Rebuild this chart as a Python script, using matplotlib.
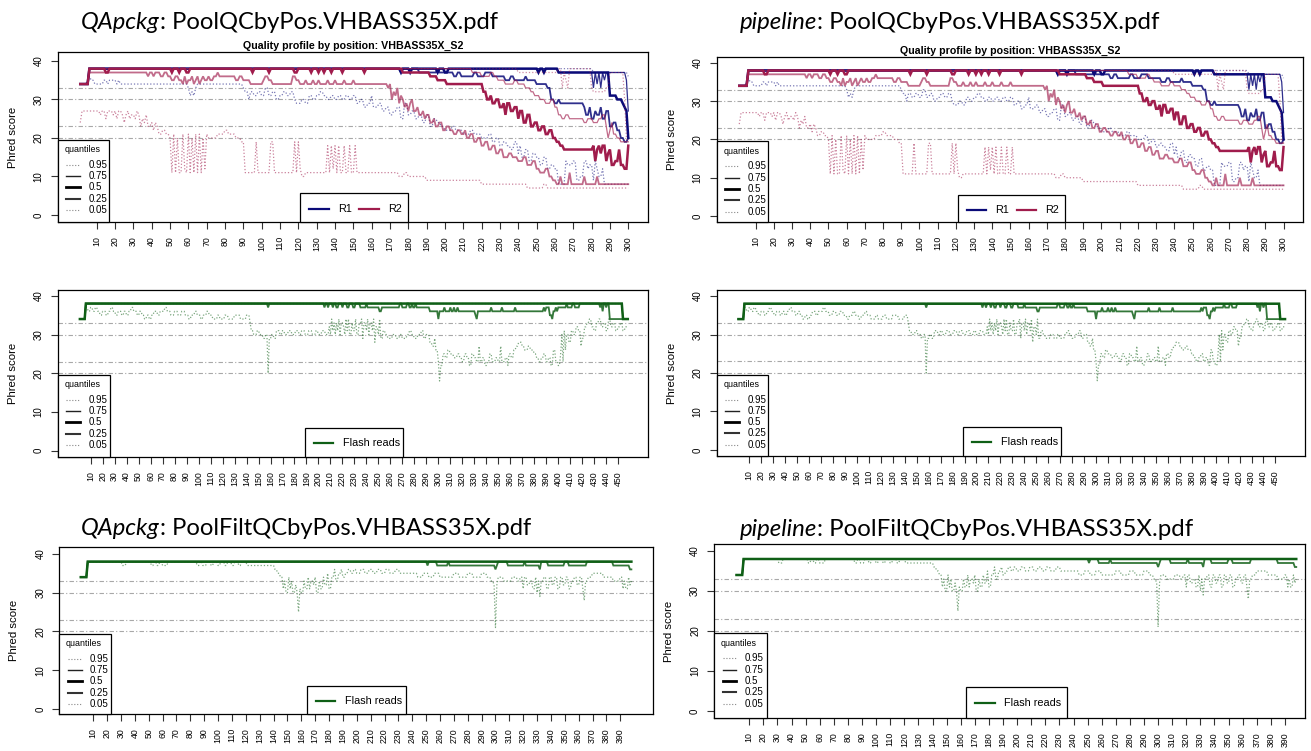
import numpy as np
import matplotlib
matplotlib.use("Agg")
import matplotlib.pyplot as plt
from matplotlib.patches import Rectangle
from matplotlib.lines import Line2D
from matplotlib.transforms import IdentityTransform

W, H = 1311, 751
HEAD_FONT = ["Lato", "DejaVu Sans"]
PLOT_FONT = ["Liberation Sans", "DejaVu Sans"]
plt.rcParams["font.family"] = PLOT_FONT

# ---------------------------------------------------------------- data
QUANTILE_LABELS = ["0.95", "0.75", "0.5", "0.25", "0.05"]
REF_SCORES = [20, 23, 30, 33]
READ_LABELS = ["R1", "R2"]
FLASH_LABEL = "Flash reads"
PANEL_TITLE = "Quality profile by position: VHBASS35X_S2"
Y_TICKS = [0, 10, 20, 30, 40]

N_PAIRED = 300
N_FLASH = 458
N_FILT = 398
TICKS_PAIRED = list(range(10, 301, 10))
TICKS_FLASH = list(range(10, 451, 10))
TICKS_FILT = list(range(10, 391, 10))

# Each series: (start position, Phred score) -- the score holds until the next start.
R1_Q95 = [(1, 34), (6, 38), (281, 37), (300, 36)]
R1_Q75 = [(1, 34), (6, 38), (262, 37), (281, 33), (282, 37), (283, 34), (284, 37),
          (285, 33), (286, 37), (287, 35), (288, 37), (299, 35), (300, 27)]
R1_Q50 = [(1, 34), (6, 38), (176, 37), (177, 38), (181, 37), (182, 38), (196, 37),
          (197, 38), (200, 37), (202, 38), (251, 37), (252, 38), (254, 37), (255, 38),
          (262, 37), (290, 31), (294, 30), (297, 29), (298, 28), (299, 27), (300, 20)]
R1_Q25 = [(1, 34), (6, 38), (176, 37), (177, 38), (181, 37), (182, 38), (186, 37),
          (196, 38), (197, 37), (205, 36), (207, 37), (209, 36), (216, 37), (218, 36),
          (222, 37), (226, 36), (233, 35), (236, 36), (238, 35), (244, 36), (245, 35),
          (250, 34), (256, 33), (258, 30), (260, 29), (262, 30), (263, 29), (276, 28),
          (277, 26), (279, 28), (280, 25), (282, 27), (283, 26), (285, 28), (286, 25),
          (288, 27), (290, 23), (292, 24), (294, 22), (296, 20), (298, 19), (300, 20)]
R1_Q05 = [(1, 34), (5, 35), (6, 36), (7, 35), (9, 34), (14, 35), (16, 34), (17, 35),
          (21, 34), (22, 35), (23, 34), (60, 33), (61, 31), (62, 32), (63, 31), (64, 33),
          (65, 34), (90, 33), (91, 32), (93, 30), (94, 32), (96, 31), (98, 32), (100, 31),
          (102, 33), (104, 31), (106, 32), (108, 30), (110, 31), (112, 32), (114, 31),
          (116, 32), (118, 30), (119, 29), (122, 30), (124, 29), (126, 31), (128, 30),
          (130, 31), (132, 32), (134, 31), (136, 30), (138, 31), (140, 30), (142, 31),
          (144, 30), (146, 31), (148, 30), (150, 31), (152, 29), (154, 30), (156, 28),
          (158, 29), (160, 31), (161, 28), (164, 29), (166, 27), (168, 28), (170, 26),
          (172, 27), (174, 28), (176, 25), (178, 29), (180, 26), (182, 27), (184, 25),
          (186, 26), (188, 24), (190, 26), (192, 23), (194, 25), (196, 24), (198, 23),
          (200, 22), (204, 23), (206, 22), (210, 21), (214, 22), (216, 21), (220, 20),
          (224, 21), (226, 19), (228, 20), (230, 18), (232, 19), (234, 18), (236, 17),
          (238, 19), (240, 16), (241, 18), (242, 15), (244, 17), (246, 14), (248, 16),
          (250, 15), (252, 13), (254, 15), (256, 12), (258, 13), (260, 12), (262, 8),
          (266, 14), (267, 13), (270, 14), (272, 9), (274, 10), (276, 14), (278, 12),
          (279, 13), (281, 9), (282, 14), (283, 12), (284, 10), (286, 12), (287, 8)]

R2_Q95 = [(1, 34), (6, 38), (240, 37), (262, 38), (264, 33), (265, 37), (266, 35),
          (267, 33), (268, 38), (280, 33), (281, 32), (288, 33), (290, 37), (298, 30),
          (299, 20), (300, 19)]
R2_Q75 = [(1, 34), (6, 38), (215, 37), (220, 36), (225, 37), (227, 36), (229, 35),
          (233, 34), (238, 35), (240, 34), (244, 33), (247, 32), (249, 31), (252, 30),
          (255, 29), (258, 30), (260, 28), (262, 26), (264, 25), (266, 26), (268, 25),
          (276, 24), (278, 25), (281, 24), (284, 25), (286, 26), (288, 23), (289, 20),
          (290, 22), (291, 24), (292, 21), (294, 20), (296, 19)]
R2_Q50 = [(1, 34), (6, 38), (15, 37), (17, 38), (51, 37), (52, 38), (55, 37), (56, 38),
          (59, 37), (61, 38), (95, 37), (96, 38), (104, 37), (105, 38), (118, 37),
          (120, 38), (127, 37), (128, 38), (131, 37), (132, 38), (134, 37), (135, 38),
          (138, 37), (139, 38), (144, 37), (145, 38), (156, 37), (157, 38), (177, 37),
          (192, 36), (196, 35), (201, 34), (221, 32), (223, 30), (225, 31), (226, 29),
          (228, 30), (230, 28), (232, 29), (233, 26), (234, 29), (236, 27), (238, 28),
          (240, 25), (241, 27), (243, 24), (245, 26), (247, 23), (249, 24), (251, 22),
          (253, 23), (255, 21), (257, 22), (259, 20), (261, 19), (263, 18), (265, 17),
          (281, 18), (282, 14), (283, 17), (284, 18), (285, 16), (286, 18), (288, 14),
          (289, 16), (290, 17), (291, 13), (293, 14), (295, 17), (296, 13), (298, 12),
          (300, 18)]
R2_Q25 = [(1, 34), (6, 37), (38, 36), (39, 37), (41, 36), (42, 37), (45, 36), (47, 37),
          (49, 36), (51, 35), (53, 36), (55, 35), (57, 34), (58, 36), (59, 34), (60, 35),
          (62, 36), (63, 34), (64, 35), (65, 36), (66, 34), (67, 35), (68, 36), (69, 35),
          (71, 36), (72, 35), (74, 36), (76, 37), (77, 36), (86, 35), (88, 36), (90, 35),
          (94, 34), (101, 35), (102, 36), (104, 35), (106, 34), (117, 36), (119, 35),
          (121, 34), (124, 35), (125, 34), (128, 35), (129, 34), (131, 35), (132, 34),
          (136, 35), (137, 34), (140, 35), (141, 34), (145, 35), (146, 34), (150, 35),
          (151, 34), (169, 33), (170, 34), (171, 30), (172, 32), (173, 31), (174, 33),
          (175, 29), (176, 31), (177, 30), (178, 28), (179, 29), (180, 27), (181, 29),
          (182, 30), (183, 27), (185, 28), (186, 26), (188, 27), (189, 25), (190, 26),
          (192, 24), (194, 25), (195, 23), (197, 24), (199, 22), (201, 23), (203, 22),
          (205, 21), (207, 22), (209, 21), (211, 22), (212, 20), (214, 21), (216, 19),
          (218, 20), (220, 18), (222, 19), (224, 17), (226, 18), (228, 16), (230, 17),
          (232, 15), (235, 16), (237, 15), (240, 14), (243, 15), (245, 13), (248, 14),
          (250, 12), (252, 11), (255, 12), (257, 10), (259, 9), (261, 8), (263, 10),
          (264, 8), (268, 11), (269, 8), (276, 10), (277, 8), (283, 10), (284, 8)]
R2_Q05 = [(1, 24), (2, 27), (12, 26), (13, 27), (15, 25), (16, 27), (19, 26), (20, 27),
          (21, 25), (22, 27), (24, 26), (25, 24), (26, 26), (27, 27), (28, 25), (29, 26),
          (31, 25), (32, 27), (33, 26), (34, 23), (35, 25), (36, 24), (37, 26), (38, 23),
          (40, 24), (41, 22), (42, 24), (43, 23), (44, 21), (46, 22), (48, 21), (50, 20),
          (51, 11), (52, 21), (53, 11), (54, 20), (55, 11), (57, 21), (58, 12), (59, 11),
          (60, 21), (61, 11), (62, 20), (63, 11), (64, 21), (65, 11), (66, 21), (67, 11),
          (68, 20), (69, 12), (70, 21), (71, 20), (76, 21), (80, 22), (82, 21), (86, 20),
          (89, 19), (91, 11), (97, 19), (98, 11), (105, 19), (107, 11), (118, 19),
          (119, 11), (120, 19), (121, 12), (122, 10), (124, 11), (136, 18), (137, 11),
          (138, 18), (139, 12), (140, 18), (141, 11), (142, 18), (143, 11), (145, 18),
          (146, 11), (148, 18), (149, 11), (151, 18), (152, 11), (175, 10), (178, 11),
          (180, 10), (190, 9), (220, 8), (245, 7), (254, 8), (256, 7)]

FLASH_Q95 = [(1, 34), (6, 38), (454, 34)]
FLASH_Q75 = [(1, 34), (6, 38), (454, 34)]
FLASH_Q50 = [(1, 34), (6, 38), (454, 34)]
FLASH_Q25 = [(1, 34), (6, 38), (158, 37), (159, 38), (205, 37), (206, 38), (208, 37),
             (209, 38), (212, 37), (213, 38), (215, 37), (217, 38), (220, 37), (221, 38),
             (224, 37), (226, 38), (229, 37), (231, 38), (235, 37), (240, 38), (241, 37),
             (251, 36), (253, 37), (268, 38), (270, 37), (274, 38), (276, 37), (278, 38),
             (279, 37), (281, 38), (282, 37), (293, 36), (300, 34), (301, 36), (305, 37),
             (306, 36), (310, 37), (311, 36), (313, 37), (314, 36), (316, 37), (317, 36),
             (331, 35), (332, 34), (333, 36), (344, 37), (345, 36), (353, 37), (354, 36),
             (364, 37), (365, 36), (388, 37), (389, 36), (390, 37), (393, 35), (395, 34),
             (396, 36), (398, 37), (399, 36), (400, 37), (407, 38), (408, 37), (412, 38),
             (414, 37), (418, 38), (435, 37), (436, 38), (437, 36), (438, 38), (440, 37),
             (441, 38), (443, 34)]
FLASH_Q05 = [(1, 34), (6, 37), (8, 36), (10, 37), (12, 36), (14, 37), (16, 36), (18, 35),
             (20, 36), (23, 35), (25, 36), (27, 37), (29, 36), (31, 35), (33, 36), (36, 35),
             (38, 36), (40, 35), (42, 36), (44, 37), (46, 36), (49, 35), (51, 36), (53, 35),
             (55, 34), (57, 35), (59, 34), (61, 35), (63, 36), (66, 35), (68, 36), (72, 37),
             (74, 36), (77, 35), (80, 36), (83, 35), (86, 36), (89, 35), (92, 34), (94, 35),
             (97, 36), (99, 35), (102, 34), (104, 35), (107, 36), (109, 35), (112, 34),
             (116, 35), (118, 34), (122, 35), (125, 34), (130, 35), (135, 34), (140, 35),
             (143, 33), (144, 31), (146, 30), (149, 31), (151, 30), (154, 29), (156, 30),
             (158, 20), (159, 29), (161, 30), (163, 29), (165, 31), (168, 30), (170, 31),
             (172, 30), (175, 31), (178, 30), (181, 31), (184, 30), (186, 31), (189, 30),
             (192, 31), (195, 30), (198, 31), (200, 30), (203, 31), (206, 30), (209, 32),
             (210, 30), (211, 34), (212, 31), (213, 33), (214, 30), (215, 33), (216, 31),
             (217, 34), (218, 30), (219, 33), (221, 32), (222, 30), (223, 34), (224, 31),
             (225, 34), (226, 30), (228, 33), (229, 31), (231, 34), (232, 30), (234, 33),
             (236, 34), (237, 29), (238, 33), (240, 31), (241, 34), (242, 30), (243, 33),
             (245, 31), (246, 34), (247, 28), (248, 32), (250, 30), (251, 34), (252, 29),
             (254, 31), (256, 30), (258, 29), (262, 30), (265, 29), (268, 30), (270, 29),
             (274, 30), (276, 31), (278, 30), (280, 29), (283, 30), (286, 31), (288, 29),
             (290, 30), (293, 28), (295, 27), (297, 29), (298, 26), (300, 23), (301, 18),
             (302, 22), (304, 25), (306, 24), (308, 26), (310, 25), (313, 24), (316, 25),
             (318, 24), (320, 23), (322, 25), (324, 24), (326, 22), (328, 25), (330, 24),
             (332, 23), (334, 27), (335, 23), (337, 24), (339, 22), (341, 23), (343, 25),
             (345, 23), (348, 24), (350, 23), (352, 27), (353, 23), (356, 24), (358, 22),
             (359, 25), (361, 24), (363, 26), (365, 27), (367, 28), (370, 27), (372, 26),
             (375, 27), (377, 26), (380, 25), (382, 24), (384, 23), (386, 24), (388, 25),
             (390, 23), (392, 24), (394, 22), (396, 26), (398, 23), (400, 22), (402, 25),
             (403, 30), (404, 23), (405, 31), (406, 26), (407, 30), (409, 28), (411, 31),
             (413, 30), (415, 32), (417, 31), (419, 27), (420, 29), (422, 32), (424, 33),
             (426, 34), (428, 32), (430, 31), (432, 33), (434, 34), (436, 32), (438, 33),
             (440, 31), (442, 34), (444, 32), (446, 33), (448, 31), (450, 32), (452, 33),
             (454, 31), (456, 32)]

FILT_Q95 = [(1, 34), (6, 38)]
FILT_Q75 = [(1, 34), (6, 38)]
FILT_Q50 = [(1, 34), (6, 38)]
FILT_Q25 = [(1, 34), (6, 38), (251, 37), (252, 38), (258, 37), (266, 38), (267, 37),
            (300, 36), (301, 37), (302, 38), (309, 37), (321, 38), (322, 37), (332, 36),
            (333, 38), (338, 37), (350, 38), (353, 37), (366, 38), (385, 37), (397, 36)]
FILT_Q05 = [(1, 34), (6, 38), (31, 37), (34, 38), (52, 37), (54, 38), (56, 37), (58, 38),
            (60, 37), (64, 38), (85, 37), (87, 38), (89, 37), (92, 38), (95, 37), (97, 38),
            (100, 37), (102, 38), (105, 37), (107, 38), (110, 37), (112, 38), (115, 37),
            (117, 38), (121, 37), (141, 36), (143, 35), (145, 34), (147, 31), (148, 33),
            (149, 30), (151, 34), (152, 31), (153, 33), (154, 30), (156, 32), (157, 30),
            (158, 25), (159, 31), (160, 30), (162, 33), (163, 31), (165, 34), (166, 31),
            (167, 33), (169, 32), (170, 34), (171, 30), (173, 33), (174, 31), (176, 34),
            (177, 32), (179, 35), (180, 31), (182, 34), (184, 36), (185, 33), (187, 35),
            (189, 36), (190, 34), (192, 35), (194, 36), (196, 35), (198, 36), (200, 35),
            (203, 36), (206, 35), (209, 36), (212, 35), (215, 36), (218, 35), (221, 36),
            (224, 35), (228, 36), (231, 35), (244, 34), (248, 35), (252, 34), (256, 35),
            (260, 34), (270, 35), (274, 34), (280, 35), (284, 34), (290, 35), (294, 34),
            (297, 33), (299, 32), (300, 21), (301, 32), (302, 34), (306, 33), (312, 34),
            (316, 33), (318, 34), (320, 31), (321, 34), (323, 32), (325, 33), (327, 31),
            (329, 34), (330, 30), (331, 33), (332, 29), (333, 33), (335, 34), (337, 31),
            (339, 34), (341, 32), (343, 34), (345, 31), (347, 34), (349, 32), (351, 34),
            (353, 31), (355, 33), (357, 34), (359, 32), (361, 34), (363, 31), (364, 28),
            (365, 33), (367, 34), (370, 35), (378, 34), (385, 33), (390, 34), (392, 31),
            (393, 33), (394, 31), (396, 34), (397, 32), (398, 33)]

R1_SERIES = [R1_Q95, R1_Q75, R1_Q50, R1_Q25, R1_Q05]
R2_SERIES = [R2_Q95, R2_Q75, R2_Q50, R2_Q25, R2_Q05]
FLASH_SERIES = [FLASH_Q95, FLASH_Q75, FLASH_Q50, FLASH_Q25, FLASH_Q05]
FILT_SERIES = [FILT_Q95, FILT_Q75, FILT_Q50, FILT_Q25, FILT_Q05]

# ---------------------------------------------------------------- styling
NAVY = "#0a0a78"
MAROON = "#a01c4c"
GREEN = "#0f5f16"
REF_COLOR = "#a8a8a8"

# line width / dash pattern per quantile (0.95, 0.75, 0.5, 0.25, 0.05)
LINE_STYLES = [
    dict(lw=0.9, dashes=(1.0, 1.6)),
    dict(lw=0.9),
    dict(lw=1.8),
    dict(lw=1.3),
    dict(lw=0.9, dashes=(1.0, 1.6)),
]
# opacity per quantile for each colour
ALPHAS = {
    NAVY: [0.50, 0.85, 1.0, 0.85, 0.55],
    MAROON: [0.50, 0.65, 1.0, 0.65, 0.55],
    GREEN: [0.50, 0.85, 1.0, 0.85, 0.55],
}
KEY_STYLES = [
    dict(lw=0.8, color="#888888", dashes=(1.0, 1.6)),
    dict(lw=1.0, color="#222222"),
    dict(lw=2.0, color="#000000"),
    dict(lw=1.5, color="#333333"),
    dict(lw=0.8, color="#888888", dashes=(1.0, 1.6)),
]

fig = plt.figure(figsize=(W / 100, H / 100), dpi=100)
fig.patch.set_facecolor("white")
PIX = IdentityTransform()


def steps(breaks, n):
    out = np.full(n, np.nan)
    for i, (p, v) in enumerate(breaks):
        end = breaks[i + 1][0] if i + 1 < len(breaks) else n + 1
        out[p - 1:end - 1] = v
    return out


def quantile_key(ax, right_pos, top_val):
    bb = ax.get_window_extent()
    x0, y0 = bb.x0, bb.y0
    x1, y1 = ax.transData.transform((right_pos, top_val))
    fig.add_artist(Rectangle((x0, y0), x1 - x0, y1 - y0, transform=PIX,
                             facecolor="white", edgecolor="black", lw=0.9, zorder=3))
    fig.text(x0 + 24.5, y1 - 9.8, "quantiles", transform=PIX, fontsize=6.4,
             ha="center", va="center", zorder=4)
    for i, (lab, st) in enumerate(zip(QUANTILE_LABELS, KEY_STYLES)):
        yy = y1 - (25.0 + 11.3 * i)
        fig.add_artist(Line2D([x0 + 8.5, x0 + 22.3], [yy, yy], transform=PIX, zorder=4, **st))
        fig.text(x0 + 30.6, yy, lab, transform=PIX, fontsize=7.0,
                 ha="left", va="center", zorder=4)


def series_key(ax, left_pos, right_pos, top_val, entries):
    bb = ax.get_window_extent()
    xl, y1 = ax.transData.transform((left_pos, top_val))
    xr, _ = ax.transData.transform((right_pos, top_val))
    y0 = bb.y0
    fig.add_artist(Rectangle((xl, y0), xr - xl, y1 - y0, transform=PIX,
                             facecolor="white", edgecolor="black", lw=0.9, zorder=3))
    yy = y1 - 15.2
    for dx, (lab, col) in zip([0, 50], entries):
        fig.add_artist(Line2D([xl + 9 + dx, xl + 28.5 + dx], [yy, yy], transform=PIX,
                              color=col, lw=1.6, zorder=4))
        fig.text(xl + 38 + dx, yy, lab, transform=PIX, fontsize=7.8,
                 ha="left", va="center", zorder=4)


def panel(box, xlim, ylim, n, ticks, groups, qkey, skey, title=False):
    l, t, r, b = box
    ax = fig.add_axes([l / W, 1 - b / H, (r - l) / W, (b - t) / H])
    ax.set_xlim(*xlim)
    ax.set_ylim(*ylim)
    for s in REF_SCORES:
        ax.axhline(s, color=REF_COLOR, lw=0.8, dashes=(4, 2, 1, 2), zorder=1)
    x = np.arange(1, n + 1)
    for color, series in groups:
        for brk, st, a in zip(series, LINE_STYLES, ALPHAS[color]):
            ax.plot(x, steps(brk, n), color=color, alpha=a, zorder=2,
                    solid_joinstyle="miter", **st)
    ax.set_xticks(ticks)
    ax.set_xticklabels([str(v) for v in ticks], rotation=90)
    ax.set_yticks(Y_TICKS)
    ax.set_yticklabels([str(v) for v in Y_TICKS], rotation=90, va="center")
    ax.tick_params(axis="both", direction="out", length=5, width=0.8,
                   pad=5, color="#333333")
    ax.tick_params(axis="x", labelsize=6.3)
    ax.tick_params(axis="y", labelsize=7.0)
    for sp in ax.spines.values():
        sp.set_linewidth(0.9)
    fig.text((l - 45) / W, 1 - (t + b) / 2 / H, "Phred score", rotation=90,
             ha="center", va="center", fontsize=8.2)
    if title:
        fig.text((l + r) / 2 / W, 1 - (t - 6) / H, PANEL_TITLE, ha="center", va="center",
                 fontsize=7.7, fontweight="bold")
    quantile_key(ax, *qkey)
    if len(groups) == 2:
        series_key(ax, *skey, entries=[(READ_LABELS[0], NAVY), (READ_LABELS[1], MAROON)])
    else:
        series_key(ax, *skey, entries=[(FLASH_LABEL, GREEN)])
    return ax


def heading(x_px, base_px, lead, rest, width_px):
    size = 16.0
    y = 1 - base_px / H
    t1 = fig.text(x_px / W, y, lead, fontsize=size, fontstyle="italic",
                  family=HEAD_FONT, va="baseline")
    t2 = fig.text(0, y, rest, fontsize=size, family=HEAD_FONT, va="baseline")
    rend = fig.canvas.get_renderer()
    for _ in range(4):
        w1 = t1.get_window_extent(rend).width
        t2.set_x((x_px + w1) / W)
        total = t2.get_window_extent(rend).x1 - x_px
        size *= width_px / total
        t1.set_fontsize(size)
        t2.set_fontsize(size)
    w1 = t1.get_window_extent(rend).width
    t2.set_x((x_px + w1) / W)


paired = [(NAVY, R1_SERIES), (MAROON, R2_SERIES)]
flash = [(GREEN, FLASH_SERIES)]
filt = [(GREEN, FILT_SERIES)]

# left column
panel((57.7, 51.7, 647.7, 222.3), (-11.3, 310.6), (-1.9, 42.4), N_PAIRED, TICKS_PAIRED,
      paired, (16.9, 19.5), (120.9, 179.8, 5.6), title=True)
panel((57.7, 290.0, 647.7, 457.3), (-17.5, 474.6), (-1.7, 41.5), N_FLASH, TICKS_FLASH,
      flash, (25.8, 19.6), (188.7, 270.7, 5.9))
panel((59.3, 547.3, 653.3, 714.0), (-14.5, 413.8), (-1.3, 41.7), N_FILT, TICKS_FILT,
      filt, (22.8, 19.4), (163.9, 235.5, 5.9))

# right column
panel((716.7, 56.7, 1303.0, 222.3), (-11.4, 310.7), (-1.64, 41.6), N_PAIRED, TICKS_PAIRED,
      paired, (16.9, 19.5), (120.9, 179.8, 5.6), title=True)
panel((716.7, 290.0, 1305.0, 456.0), (-17.2, 474.7), (-1.56, 41.56), N_FLASH, TICKS_FLASH,
      flash, (25.8, 19.6), (188.7, 270.7, 5.9))
panel((714.0, 544.0, 1305.0, 718.0), (-15.0, 404.2), (-1.75, 41.75), N_FILT, TICKS_FILT,
      filt, (22.8, 19.4), (163.9, 235.5, 5.9))

heading(81, 29, "QApckg", ": PoolQCbyPos.VHBASS35X.pdf", 417)
heading(81, 535, "QApckg", ": PoolFiltQCbyPos.VHBASS35X.pdf", 452)
heading(740, 29, "pipeline", ": PoolQCbyPos.VHBASS35X.pdf", 420)
heading(740, 536, "pipeline", ": PoolFiltQCbyPos.VHBASS35X.pdf", 453)

fig.savefig("out.png", dpi=100)
